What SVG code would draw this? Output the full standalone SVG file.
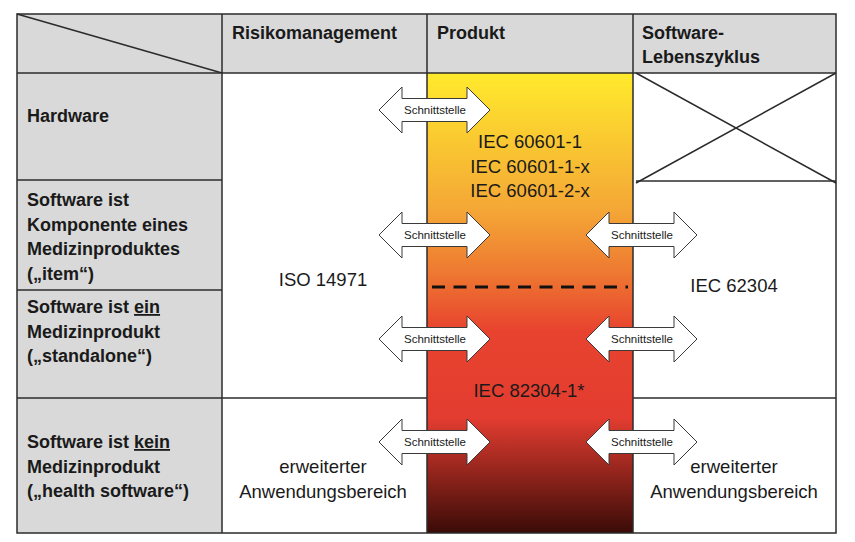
<svg xmlns="http://www.w3.org/2000/svg" width="855" height="542" viewBox="0 0 855 542">
<defs>
  <linearGradient id="prod" x1="0" y1="73" x2="0" y2="533" gradientUnits="userSpaceOnUse">
    <stop offset="0" stop-color="#ffea2c"/>
    <stop offset="0.3" stop-color="#f4a636"/>
    <stop offset="0.43" stop-color="#ee7a31"/>
    <stop offset="0.56" stop-color="#e8432f"/>
    <stop offset="0.75" stop-color="#e33c30"/>
    <stop offset="1" stop-color="#3a0b07"/>
  </linearGradient>
  <path id="arrow" d="M0,0 L23,-23 L23,-11.5 L88,-11.5 L88,-23 L111,0 L88,23 L88,11.5 L23,11.5 L23,23 Z"/>
  <style>
    .gray { fill: #d9d9d9; }
    .line { stroke: #2b2b2b; stroke-width: 1.5; fill: none; }
    .hb { font-family: "Liberation Sans", Arial, sans-serif; font-weight: bold; font-size: 18px; fill: #1a1a1a; }
    .rt { font-family: "Liberation Sans", Arial, sans-serif; font-size: 18.5px; fill: #1a1a1a; text-anchor: middle; }
    .arr { fill: #ffffff; stroke: #3a3a3a; stroke-width: 1; }
    .lbl { font-family: "Liberation Sans", Arial, sans-serif; font-size: 11.5px; fill: #1a1a1a; text-anchor: middle; }
  </style>
</defs>

<!-- backgrounds -->
<rect x="0" y="0" width="855" height="542" fill="#ffffff"/>
<g id="header">
  <rect class="gray" x="17" y="14" width="819" height="59"/>
  <line class="line" x1="17" y1="14" x2="222" y2="73"/>
  <text class="hb" x="232" y="39">Risikomanagement</text>
  <text class="hb" x="437" y="39">Produkt</text>
  <text class="hb" x="642" y="39">Software-</text>
  <text class="hb" x="642" y="63">Lebenszyklus</text>
</g>

<g id="row-hardware">
  <rect class="gray" x="17" y="73" width="205" height="107"/>
  <text class="hb" x="27" y="122">Hardware</text>
</g>
<g id="row-komponente">
  <rect class="gray" x="17" y="180" width="205" height="110"/>
  <text class="hb" x="27" y="206">Software ist</text>
  <text class="hb" x="27" y="231">Komponente eines</text>
  <text class="hb" x="27" y="255">Medizinproduktes</text>
  <text class="hb" x="27" y="280">(„item“)</text>
</g>
<g id="row-standalone">
  <rect class="gray" x="17" y="290" width="205" height="108"/>
  <text class="hb" x="27" y="313">Software ist <tspan text-decoration="underline">ein</tspan></text>
  <text class="hb" x="27" y="338">Medizinprodukt</text>
  <text class="hb" x="27" y="362">(„standalone“)</text>
</g>
<g id="row-health">
  <rect class="gray" x="17" y="398" width="205" height="135"/>
  <text class="hb" x="27" y="448">Software ist <tspan text-decoration="underline">kein</tspan></text>
  <text class="hb" x="27" y="473">Medizinprodukt</text>
  <text class="hb" x="27" y="497">(„health software“)</text>
</g>

<g id="produkt-column">
  <rect x="427" y="73" width="206" height="460" fill="url(#prod)"/>
  <line x1="432" y1="287" x2="628" y2="287" stroke="#111111" stroke-width="3" stroke-dasharray="13 8.5"/>
  <text class="rt" x="530" y="148">IEC 60601-1</text>
  <text class="rt" x="530" y="173">IEC 60601-1-x</text>
  <text class="rt" x="530" y="197">IEC 60601-2-x</text>
  <text class="rt" x="529" y="397">IEC 82304-1*</text>
</g>

<g id="risiko-cells">
  <text class="rt" x="323" y="286">ISO 14971</text>
  <text class="rt" x="323" y="473">erweiterter</text>
  <text class="rt" x="323" y="498">Anwendungsbereich</text>
</g>

<g id="lebenszyklus-cells">
  <line class="line" x1="636" y1="73" x2="836" y2="183"/>
  <line class="line" x1="836" y1="73" x2="636" y2="183"/>
  <line class="line" x1="636" y1="181" x2="836" y2="181"/>
  <text class="rt" x="734" y="292">IEC 62304</text>
  <text class="rt" x="734" y="473">erweiterter</text>
  <text class="rt" x="734" y="498">Anwendungsbereich</text>
</g>

<!-- grid lines -->
<g id="grid">
  <rect class="line" x="17" y="14" width="819" height="519"/>
  <line class="line" x1="17" y1="73" x2="836" y2="73"/>
  <line class="line" x1="222" y1="14" x2="222" y2="533"/>
  <line class="line" x1="427" y1="14" x2="427" y2="533"/>
  <line class="line" x1="633" y1="14" x2="633" y2="533"/>
  <line class="line" x1="17" y1="180" x2="222" y2="180"/>
  <line class="line" x1="17" y1="290" x2="222" y2="290"/>
  <line class="line" x1="17" y1="398" x2="427" y2="398"/>
  <line class="line" x1="633" y1="398" x2="836" y2="398"/>
</g>

<g id="connectors">
  <use href="#arrow" class="arr" transform="translate(379,110)"/>
  <text class="lbl" x="435" y="114">Schnittstelle</text>
  <use href="#arrow" class="arr" transform="translate(379,235)"/>
  <text class="lbl" x="435" y="239">Schnittstelle</text>
  <use href="#arrow" class="arr" transform="translate(586,235)"/>
  <text class="lbl" x="642" y="239">Schnittstelle</text>
  <use href="#arrow" class="arr" transform="translate(379,339)"/>
  <text class="lbl" x="435" y="343">Schnittstelle</text>
  <use href="#arrow" class="arr" transform="translate(586,339)"/>
  <text class="lbl" x="642" y="343">Schnittstelle</text>
  <use href="#arrow" class="arr" transform="translate(379,442)"/>
  <text class="lbl" x="435" y="446">Schnittstelle</text>
  <use href="#arrow" class="arr" transform="translate(586,442)"/>
  <text class="lbl" x="642" y="446">Schnittstelle</text>
</g>
</svg>
